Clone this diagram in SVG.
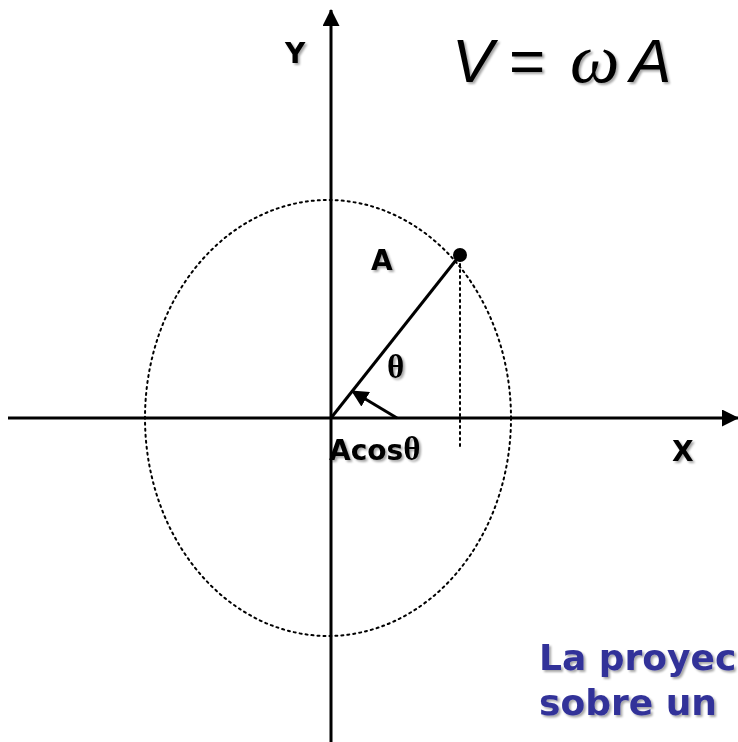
<svg xmlns="http://www.w3.org/2000/svg" width="738" height="742" viewBox="0 0 738 742">
<style>
.ax{stroke:#000;stroke-width:3;fill:none}
.dot{stroke:#000;stroke-width:2;stroke-dasharray:2 4;fill:none;stroke-linecap:round}
.lbl{font-family:"DejaVu Sans",Verdana,sans-serif;font-weight:bold;font-size:28px;fill:#000}
.th{font-family:"Liberation Serif","Times New Roman",serif;font-weight:bold;font-size:33px}
.blue{font-family:"DejaVu Sans",Verdana,sans-serif;font-weight:bold;font-size:36px;fill:#333399}
.eq{font-family:"Liberation Sans",Arial,sans-serif;font-style:italic;font-size:62px;fill:#000}
.om{font-family:"Liberation Serif","Times New Roman",serif;font-style:italic;font-size:70px}
</style>
<defs>
<filter id="sh" x="-20%" y="-20%" width="140%" height="140%">
<feDropShadow dx="2" dy="2" stdDeviation="1.3" flood-color="#000" flood-opacity="0.35"/>
</filter>
<marker id="big" markerWidth="17" markerHeight="17" refX="16" refY="8.5" orient="auto" markerUnits="userSpaceOnUse">
<path d="M0,0 L17,8.5 L0,17 z" fill="#000"/>
</marker>
</defs>
<g id="connectors">
<ellipse class="dot" cx="328" cy="418" rx="183" ry="218"/>
<line class="ax" x1="331" y1="742" x2="331" y2="10" marker-end="url(#big)"/>
<line class="ax" x1="8" y1="418" x2="738" y2="418" marker-end="url(#big)"/>
<line class="ax" x1="331" y1="418" x2="460" y2="255"/>
<line class="dot" x1="460" y1="264" x2="460" y2="447"/>
<line class="ax" x1="397" y1="418" x2="352" y2="391" marker-end="url(#big)"/>
</g>
<g id="point"><circle cx="460" cy="255" r="7" fill="#000"/></g>
<g id="labels" filter="url(#sh)">
<text class="lbl" x="285" y="63">Y</text>
<text class="lbl" x="672" y="461">X</text>
<text class="lbl" x="371" y="270">A</text>
<text class="lbl th" x="387" y="378">θ</text>
<text class="lbl" x="329" y="460">Acos<tspan class="th">θ</tspan></text>
<text class="eq" y="82"><tspan x="452">V</tspan><tspan x="509" font-style="normal">=</tspan><tspan class="om" x="570">ω</tspan><tspan x="630">A</tspan></text>
<text class="blue" x="539" y="670">La proyec</text>
<text class="blue" x="539" y="715">sobre un</text>
</g>
</svg>
